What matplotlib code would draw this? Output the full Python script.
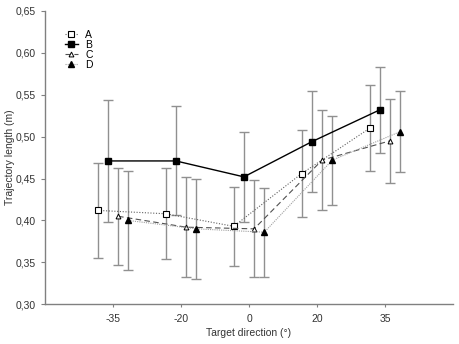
import numpy as np
import matplotlib.pyplot as plt
from matplotlib.ticker import FuncFormatter

plt.rcParams['font.family'] = ['Liberation Sans', 'DejaVu Sans']

directions = ['-35', '-20', '0', '20', '35']

a_mean = [0.412, 0.408, 0.393, 0.456, 0.510]
a_err = [0.057, 0.054, 0.047, 0.052, 0.051]
b_mean = [0.471, 0.471, 0.452, 0.494, 0.532]
b_err = [0.073, 0.065, 0.054, 0.060, 0.051]
c_mean = [0.405, 0.392, 0.390, 0.472, 0.495]
c_err = [0.058, 0.060, 0.058, 0.060, 0.050]
d_mean = [0.400, 0.390, 0.386, 0.472, 0.506]
d_err = [0.059, 0.060, 0.053, 0.053, 0.048]

series = [
    ('A', a_mean, a_err, -0.225, dict(color='#606060', ls=(0, (1, 1.5)), lw=0.8,
                                      marker='s', ms=4.5, mfc='white', mec='black', mew=0.8)),
    ('B', b_mean, b_err, -0.075, dict(color='black', ls='-', lw=1.0,
                                      marker='s', ms=4.5, mfc='black', mec='black')),
    ('C', c_mean, c_err, 0.075, dict(color='#505050', ls=(0, (5, 3)), lw=0.8,
                                     marker='^', ms=3.5, mfc='white', mec='black', mew=0.7)),
    ('D', d_mean, d_err, 0.225, dict(color='#a0a0a0', ls=(0, (1, 1)), lw=0.8,
                                     marker='^', ms=4, mfc='black', mec='black')),
]

fig = plt.figure(figsize=(4.59, 3.44), dpi=100)
ax = fig.add_axes([0.098, 0.1154, 0.889, 0.853])

x = np.arange(len(directions))
for label, mean, err, off, style in series:
    ax.errorbar(x + off, mean, yerr=err, fmt='none', ecolor='#909090',
                elinewidth=1.0, capsize=3.5, capthick=1.0, zorder=1)
    ax.plot(x + off, mean, label=label, zorder=3, **style)

ax.set_xlim(-1, 5)
ax.set_ylim(0.30, 0.65)
ax.set_xticks(x)
ax.set_xticklabels(directions)
ax.set_yticks(np.arange(0.30, 0.651, 0.05))
ax.yaxis.set_major_formatter(FuncFormatter(lambda v, p: f'{v:.2f}'.replace('.', ',')))

for s in ['top', 'right']:
    ax.spines[s].set_visible(False)
for s in ['left', 'bottom']:
    ax.spines[s].set_color('#808080')
    ax.spines[s].set_linewidth(1.0)
ax.tick_params(colors='#808080', labelcolor='#333333', labelsize=7.5, length=3, width=0.8)
ax.tick_params(axis='x', length=2, pad=5)

ax.set_xlabel('Target direction (°)', fontsize=7.5, color='#333333', labelpad=3)
ax.set_ylabel('Trajectory length (m)', fontsize=7.5, color='#333333')
ax.yaxis.set_label_coords(-0.074, 0.5)

ax.legend(loc='upper left', bbox_to_anchor=(0.03, 0.96), frameon=False, fontsize=7.5,
          handlelength=1.3, handletextpad=0.7, labelspacing=0.0, borderpad=0.2)

plt.savefig('out.png', dpi=100)
